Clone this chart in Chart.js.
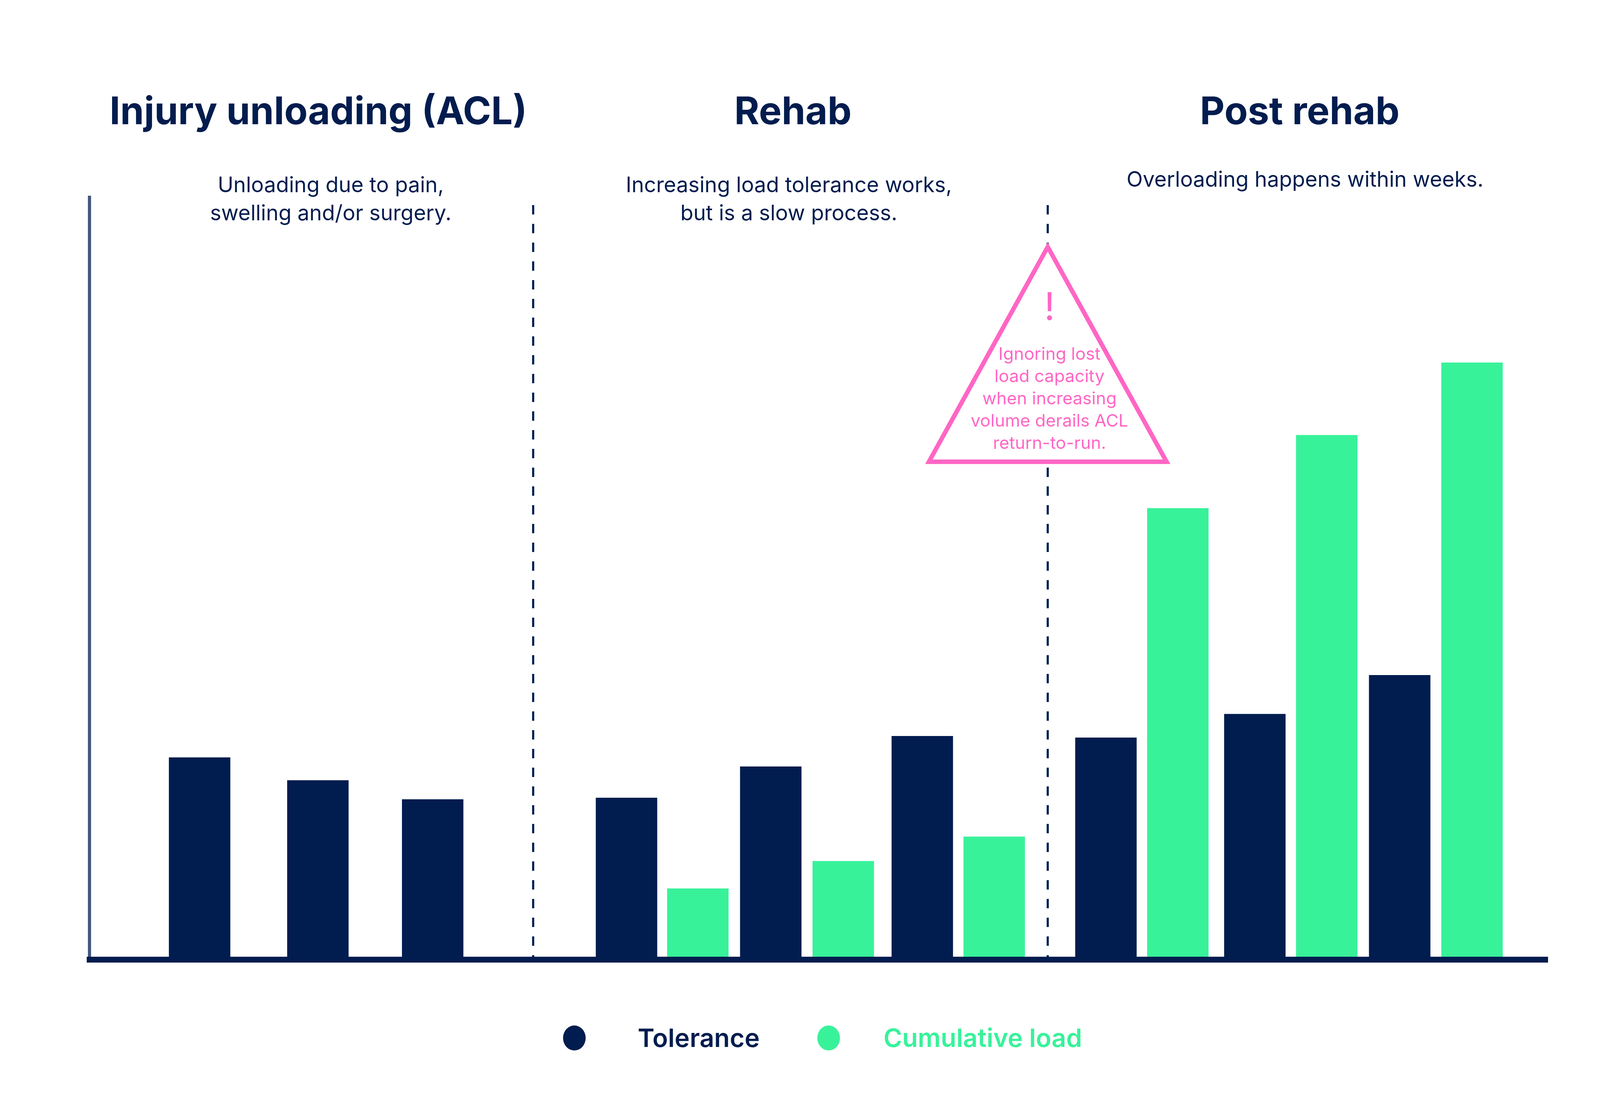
<!DOCTYPE html>
<html>
<head>
<meta charset="utf-8">
<title>ACL return-to-run load</title>
<script src="https://cdn.jsdelivr.net/npm/chart.js@4.4.1/dist/chart.umd.min.js"></script>
<style>
  html, body { margin: 0; padding: 0; background: #fff; overflow: hidden; }
  #wrap { width: 100vw; height: 100vh; position: relative; }
</style>
</head>
<body>
<div id="wrap"><canvas id="chart"></canvas></div>
<script>
// Timeline position (0-100) and bar height (0-100)
const tolPos = [7.55, 15.66, 23.53, 36.82, 46.71, 57.10, 69.69, 79.90, 89.83];
const tolerance = [26.5, 23.5, 21.0, 21.2, 25.3, 29.3, 29.1, 32.2, 37.3];
const loadPos = [41.71, 51.68, 62.03, 74.62, 84.83, 94.79];
const cumulativeLoad = [9.3, 12.9, 16.1, 59.2, 68.8, 78.3];

// Phases
const phaseBounds = [30.42, 65.7];
const phaseNames = ['Injury unloading (ACL)', 'Rehab', 'Post rehab'];
const phaseTitlePos = [15.69, 48.23, 82.98];
const phaseNotes = [
  ['Unloading due to pain,', 'swelling and/or surgery.'],
  ['Increasing load tolerance works,', 'but is a slow process.'],
  ['Overloading happens within weeks.']
];
const notePos = [16.54, 47.95, 83.34];
const warning = ['Ignoring lost', 'load capacity', 'when increasing', 'volume derails ACL', 'return-to-run.'];

const NAVY = '#011c4e';
const GREEN = '#38f29a';
const PINK = '#ff66c4';
const AXIS = '#44577e';
const FONT = 'Inter, "Noto Sans", sans-serif';

// layout measured on the 4524 x 2826 original, scaled to the real viewport
const sx = window.innerWidth / 4524;
const sy = window.innerHeight / 2826;
const X = v => v * sx;
const Y = v => v * sy;

const annotations = {
  id: 'annotations',
  afterDraw(chart) {
    const { ctx, chartArea, scales: { x } } = chart;
    ctx.save();

    // dashed phase separators
    ctx.strokeStyle = NAVY;
    ctx.lineWidth = X(6);
    ctx.setLineDash([Y(24), Y(24)]);
    phaseBounds.forEach(v => {
      const bx = x.getPixelForValue(v);
      ctx.beginPath();
      ctx.moveTo(bx, chartArea.top + Y(20));
      ctx.lineTo(bx, chartArea.bottom);
      ctx.stroke();
    });
    ctx.setLineDash([]);

    // warning triangle
    const cx = x.getPixelForValue(phaseBounds[1]);
    ctx.beginPath();
    ctx.moveTo(cx, Y(632));
    ctx.lineTo(cx + X(336), Y(1182));
    ctx.lineTo(cx - X(336), Y(1182));
    ctx.closePath();
    ctx.fillStyle = '#fff';
    ctx.fill();
    ctx.lineWidth = (X(12) + Y(12)) / 2;
    ctx.lineJoin = 'miter';
    ctx.strokeStyle = PINK;
    ctx.stroke();

    ctx.fillStyle = PINK;
    ctx.textAlign = 'center';
    ctx.textBaseline = 'middle';
    ctx.font = `400 ${X(108)}px ${FONT}`;
    ctx.fillText('!', cx + X(5), Y(790));
    ctx.font = `400 ${X(49)}px ${FONT}`;
    warning.forEach((t, i) => ctx.fillText(t, cx + X(5), Y(908 + i * 57)));

    // phase titles and notes
    ctx.fillStyle = NAVY;
    ctx.font = `700 ${X(108)}px ${FONT}`;
    phaseNames.forEach((t, i) => ctx.fillText(t, x.getPixelForValue(phaseTitlePos[i]), Y(289)));
    ctx.font = `400 ${X(60)}px ${FONT}`;
    phaseNotes.forEach((lines, i) => {
      const top = lines.length > 1 ? 476 : 462;
      lines.forEach((t, j) => ctx.fillText(t, x.getPixelForValue(notePos[i]), Y(top + j * 72)));
    });

    // legend
    const items = [
      { cx: 1624, tx: 1803 },
      { cx: 2343, tx: 2498 }
    ];
    ctx.font = `600 ${X(72)}px ${FONT}`;
    ctx.textAlign = 'left';
    chart.data.datasets.forEach((ds, i) => {
      ctx.fillStyle = ds.backgroundColor;
      ctx.beginPath();
      ctx.ellipse(X(items[i].cx), Y(2657), X(32), Y(32), 0, 0, Math.PI * 2);
      ctx.fill();
      ctx.fillText(ds.label, X(items[i].tx), Y(2660));
    });

    ctx.restore();
  }
};

const chart = new Chart(document.getElementById('chart'), {
  type: 'bar',
  data: {
    datasets: [
      {
        label: 'Tolerance',
        data: tolPos.map((p, i) => ({ x: p, y: tolerance[i] })),
        backgroundColor: NAVY,
        grouped: false,
        barThickness: X(173)
      },
      {
        label: 'Cumulative load',
        data: loadPos.map((p, i) => ({ x: p, y: cumulativeLoad[i] })),
        backgroundColor: GREEN,
        grouped: false,
        barThickness: X(173)
      }
    ]
  },
  options: {
    responsive: true,
    maintainAspectRatio: false,
    animation: false,
    layout: { padding: { left: X(253), right: X(147), top: Y(505), bottom: Y(370) } },
    plugins: {
      legend: { display: false },
      tooltip: { enabled: false },
      title: { display: false }
    },
    scales: {
      x: {
        type: 'linear',
        min: 0,
        max: 100,
        offset: false,
        ticks: { display: false },
        grid: { display: false, drawTicks: false },
        border: { display: true, color: NAVY, width: Y(15), z: 1 },
        afterFit: sc => { sc.height = 0; }
      },
      y: {
        min: 0,
        max: 100,
        ticks: { display: false },
        grid: { display: false, drawTicks: false },
        border: { display: true, color: AXIS, width: X(9) },
        afterFit: sc => { sc.width = 0; }
      }
    }
  },
  plugins: [annotations]
});

// redraw once the local fonts are ready
Promise.all(['700 20px Inter', '400 20px Inter', '600 20px Inter'].map(f => document.fonts.load(f)))
  .then(() => chart.draw());
</script>
</body>
</html>
